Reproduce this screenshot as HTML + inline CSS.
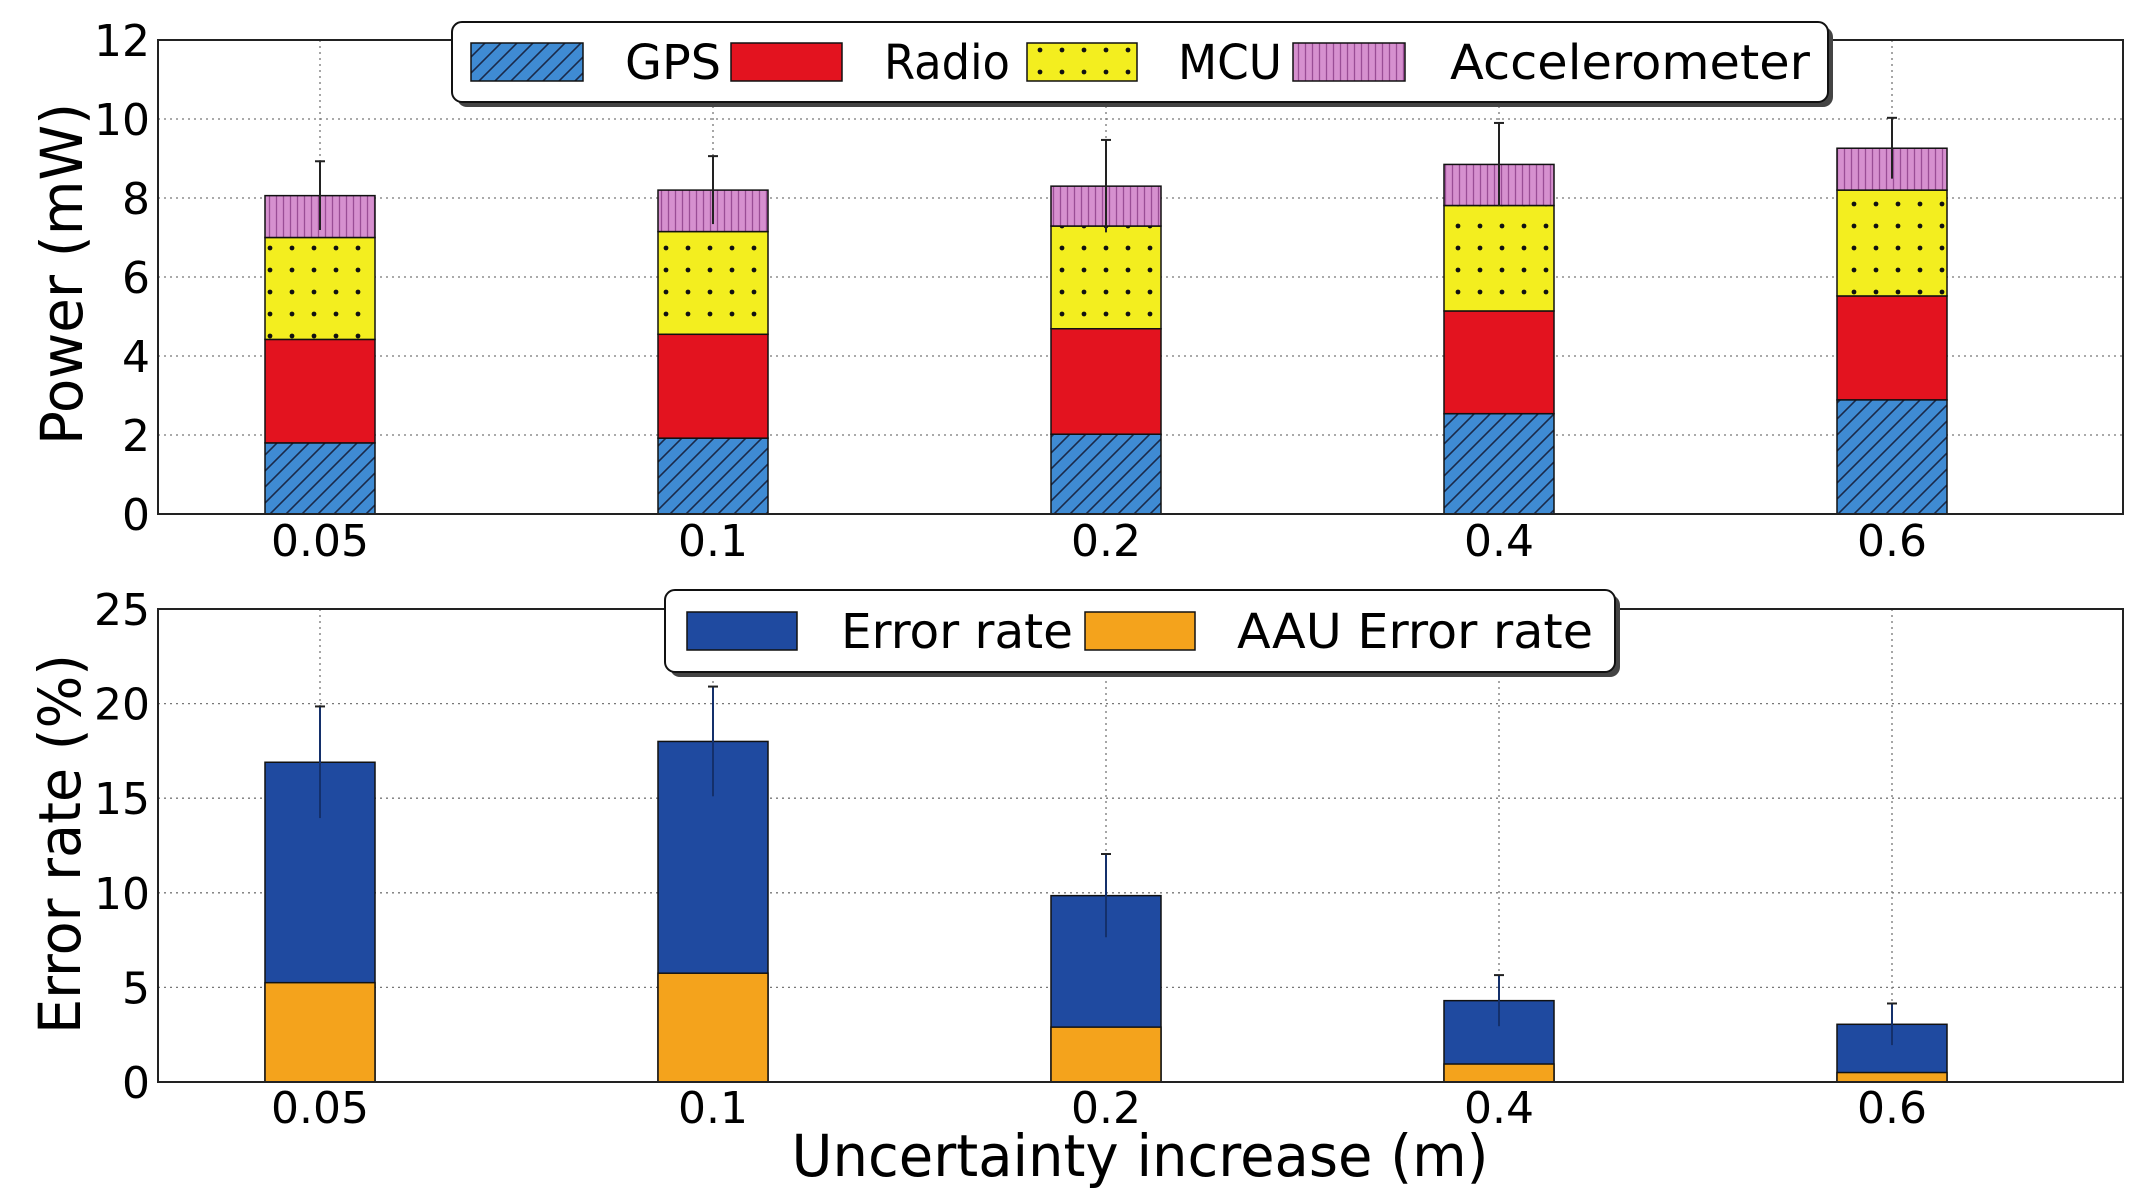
<!DOCTYPE html>
<html><head><meta charset="utf-8"><style>
html,body{margin:0;padding:0;background:#fff;}
svg{display:block;font-family:"DejaVu Sans","Liberation Sans",sans-serif;}
</style></head><body>
<svg id="chart" width="2148" height="1198" viewBox="0 0 2148 1198">
<defs>
<pattern id="pGps" patternUnits="userSpaceOnUse" width="16" height="16">
<rect width="16" height="16" fill="#3f8bd3"/>
<path d="M-4,4 L4,-4 M0,16 L16,0 M12,20 L20,12" stroke="#1a2a4a" stroke-width="1.6"/>
</pattern>
<pattern id="pMcu" patternUnits="userSpaceOnUse" width="22" height="22">
<rect width="22" height="22" fill="#f3ee1f"/>
<circle cx="6" cy="6" r="2.4" fill="#111"/>
</pattern>
<pattern id="pAcc" patternUnits="userSpaceOnUse" width="7" height="10">
<rect width="7" height="10" fill="#d690cf"/>
<line x1="3.5" y1="0" x2="3.5" y2="10" stroke="#9a4d96" stroke-width="1.3"/>
</pattern>
</defs>
<g id="top"></g>
<g id="bot"></g>
<text x="1140" y="1176" font-size="58" text-anchor="middle" textLength="697" lengthAdjust="spacingAndGlyphs">Uncertainty increase (m)</text>
<text transform="translate(82,274) rotate(-90)" font-size="58" text-anchor="middle" textLength="342" lengthAdjust="spacingAndGlyphs">Power (mW)</text>
<text transform="translate(80,844) rotate(-90)" font-size="58" text-anchor="middle" textLength="380" lengthAdjust="spacingAndGlyphs">Error rate (%)</text>
</svg>
<script>
const categories = ["0.05","0.1","0.2","0.4","0.6"];
const gps = [1.8,1.92,2.02,2.54,2.89];
const radio = [2.62,2.63,2.67,2.6,2.63];
const mcu = [2.58,2.6,2.6,2.67,2.68];
const accel = [1.06,1.05,1.01,1.04,1.06];
const powerErr = [0.87,0.86,1.17,1.05,0.77];
const powerTicks = [0,2,4,6,8,10,12];
const errorRate = [16.9,18.0,9.85,4.3,3.05];
const aauErrorRate = [5.25,5.75,2.9,0.95,0.5];
const errorErr = [2.95,2.9,2.2,1.35,1.1];
const errorTicks = [0,5,10,15,20,25];

const NS="http://www.w3.org/2000/svg";
function mk(parent,tag,attrs,text){const e=document.createElementNS(NS,tag);for(const k in attrs)e.setAttribute(k,attrs[k]);if(text!==undefined)e.textContent=text;parent.appendChild(e);return e;}
const X0=158,X1=2123,C0=320,CS=393,BW=110;
function xPos(i){return C0+i*CS;}

function axes(g,top,bot,ymax,ticks,tickBase,name){
  const y=v=>bot-(v/ymax)*(bot-top);
  ticks.forEach(t=>{
    if(t>0&&t<ymax){const l=mk(g,'line',{x1:X0,x2:X1,y1:y(t),y2:y(t),stroke:'#777','stroke-width':1.3,'stroke-dasharray':'2,4'});
    
    }
    const tx=mk(g,'text',{x:150,y:y(t)+16,'font-size':44,'text-anchor':'end'},String(t));
    
    
  });
  categories.forEach((c,i)=>{
    const l=mk(g,'line',{x1:xPos(i),x2:xPos(i),y1:top,y2:bot,stroke:'#777','stroke-width':1.3,'stroke-dasharray':'2,4'});
    
    
    const tx=mk(g,'text',{x:xPos(i),y:tickBase,'font-size':44,'text-anchor':'middle'},c);
    
    
  });
  return y;
}
function frame(g,top,bot,name){
  const r=mk(g,'rect',{x:X0,y:top,width:X1-X0,height:bot-top,fill:'none',stroke:'#222','stroke-width':2});
  
  
}
function errbar(g,cx,y,v,e,color,name){
  const l=mk(g,'line',{x1:cx,x2:cx,y1:y(v-e),y2:y(v+e),stroke:color,'stroke-width':2});
  
  
  mk(g,'line',{x1:cx-5,x2:cx+5,y1:y(v+e),y2:y(v+e),stroke:'#222','stroke-width':2});
}
function legend(g,x,y,w,h,items,name){
  mk(g,'rect',{x:x+5,y:y+5,width:w,height:h,rx:10,fill:'#444'});
  const b=mk(g,'rect',{x:x,y:y,width:w,height:h,rx:10,fill:'#fff',stroke:'#111','stroke-width':2});
  
  
  items.forEach(it=>{
    const p=mk(g,'rect',{x:it.px,y:y+(h-38)/2,width:it.pw,height:38,fill:it.fill,stroke:'#111','stroke-width':1.5});
    
    
    const t=mk(g,'text',{x:it.tx,y:y+h/2+17,'font-size':48,textLength:it.tw,lengthAdjust:'spacingAndGlyphs'},it.label);
    
    
  });
}

// top chart
const gt=document.getElementById('top');
const yT=axes(gt,40,514,12,powerTicks,556,'power');
const layers=[[gps,'url(#pGps)','gps'],[radio,'#e3131f','radio'],[mcu,'url(#pMcu)','mcu'],[accel,'url(#pAcc)','accelerometer']];
categories.forEach((c,i)=>{
  let base=0;
  layers.forEach(([arr,fill,key])=>{
    const v=arr[i];
    const r=mk(gt,'rect',{x:xPos(i)-BW/2,y:yT(base+v),width:BW,height:yT(base)-yT(base+v),fill:fill,stroke:'#111','stroke-width':1.5});
    
    
    base+=v;
  });
  errbar(gt,xPos(i),yT,base,powerErr[i],'#222','power-error-bar');
});
frame(gt,40,514,'power');
legend(gt,452,22,1376,80,[
 {key:'gps',label:'GPS',fill:'url(#pGps)',px:471,pw:112,tx:625,tw:96},
 {key:'radio',label:'Radio',fill:'#e3131f',px:731,pw:111,tx:884,tw:126},
 {key:'mcu',label:'MCU',fill:'url(#pMcu)',px:1027,pw:110,tx:1178,tw:104},
 {key:'accelerometer',label:'Accelerometer',fill:'url(#pAcc)',px:1293,pw:112,tx:1450,tw:360}
],'power-legend');

// bottom chart
const gb=document.getElementById('bot');
const yB=axes(gb,609,1082,25,errorTicks,1123,'error');
categories.forEach((c,i)=>{
  const r=mk(gb,'rect',{x:xPos(i)-BW/2,y:yB(errorRate[i]),width:BW,height:yB(0)-yB(errorRate[i]),fill:'#1f4aa0',stroke:'#111','stroke-width':1.5});
  
  
  const a=mk(gb,'rect',{x:xPos(i)-BW/2,y:yB(aauErrorRate[i]),width:BW,height:yB(0)-yB(aauErrorRate[i]),fill:'#f4a31c',stroke:'#111','stroke-width':1.5});
  
  
  errbar(gb,xPos(i),yB,errorRate[i],errorErr[i],'#14306b','error-rate-error-bar');
});
frame(gb,609,1082,'error');
legend(gb,665,590,950,82,[
 {key:'error-rate',label:'Error rate',fill:'#1f4aa0',px:687,pw:110,tx:841,tw:232},
 {key:'aau-error-rate',label:'AAU Error rate',fill:'#f4a31c',px:1085,pw:110,tx:1237,tw:356}
],'error-legend');
</script>
</body></html>
